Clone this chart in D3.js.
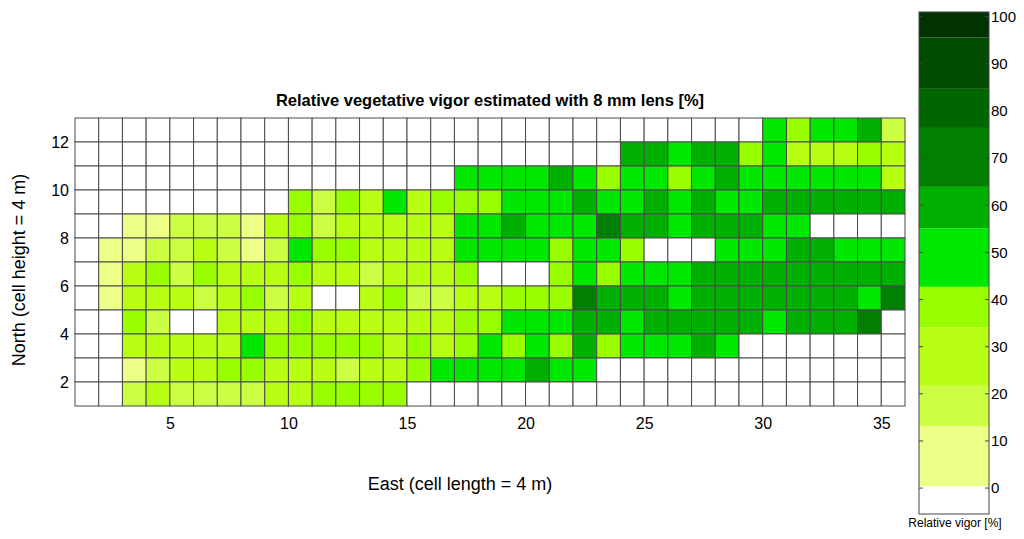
<!DOCTYPE html>
<html>
<head>
<meta charset="utf-8">
<script src="https://cdn.jsdelivr.net/npm/d3@7"></script>
<style>
  body { margin: 0; background: #fff; }
  svg { display: block; font-family: "Liberation Sans", Arial, sans-serif; }
</style>
</head>
<body>
<svg id="chart" width="1024" height="539"></svg>
<script>
const _ = null;

// relative vigor per cell, rows from north (y = 12) to south (y = 1), columns x = 1..35
const vigor = [
  [_,_,_,_,_,_,_,_,_,_,_,_,_,_,_,_,_,_,_,_,_,_,_,_,_,_,_,_,_,49,38,49,49,59,17],
  [_,_,_,_,_,_,_,_,_,_,_,_,_,_,_,_,_,_,_,_,_,_,_,59,59,49,59,59,38,49,28,28,28,38,28],
  [_,_,_,_,_,_,_,_,_,_,_,_,_,_,_,_,49,49,49,49,59,49,38,49,49,38,49,59,49,49,49,49,49,49,28],
  [_,_,_,_,_,_,_,_,_,38,17,38,28,49,28,38,38,38,49,49,49,59,49,49,59,49,59,49,49,59,59,59,59,59,59],
  [_,_,6,6,17,17,17,6,28,38,17,28,28,28,28,28,49,49,59,49,49,49,70,59,59,49,59,59,59,49,49,_,_,_,_],
  [_,6,6,17,17,28,17,6,17,49,38,38,28,28,28,28,49,49,49,49,38,49,49,38,_,_,_,49,49,49,59,59,49,49,49],
  [_,6,28,38,17,38,28,28,28,38,28,28,17,28,28,28,38,_,_,_,38,49,38,49,49,49,59,59,59,59,59,59,59,59,59],
  [_,6,28,28,28,17,28,38,17,28,_,_,28,38,17,17,28,28,38,38,38,70,59,59,59,49,59,59,59,59,59,59,59,49,70],
  [_,_,38,17,_,_,28,28,28,38,28,28,28,28,28,28,38,38,49,49,49,59,59,49,59,59,59,59,59,49,59,59,59,70,_],
  [_,_,28,28,28,28,28,49,38,38,38,38,38,28,38,28,38,49,38,49,38,59,38,49,49,49,59,49,_,_,_,_,_,_,_],
  [_,_,6,17,28,28,38,38,28,28,28,17,28,28,38,49,49,49,49,59,49,49,_,_,_,_,_,_,_,_,_,_,_,_,_],
  [_,_,17,28,17,17,17,17,28,28,38,38,38,38,_,_,_,_,_,_,_,_,_,_,_,_,_,_,_,_,_,_,_,_,_]
];
const northRow = 12;

const xTicks = [5, 10, 15, 20, 25, 30, 35];
const yTicks = [2, 4, 6, 8, 10, 12];
const barTicks = [0, 10, 20, 30, 40, 50, 60, 70, 80, 90, 100];

// colour bands of the colorbar, as read from it
const bandEdges = [-5.5, 0.4, 13.1, 21.7, 34.1, 42.7, 55.1, 63.9, 76.4, 84.7, 95.6, 101];
const bandColors = ['#ffffff', '#eeff88', '#ccff44', '#b9ff14', '#99ff00', '#00e800',
                    '#00b000', '#007f00', '#006600', '#004d00', '#003300'];

const title = 'Relative vegetative vigor estimated with 8 mm lens [%]';
const xTitle = 'East (cell length = 4 m)';
const yTitle = 'North (cell height = 4 m)';
const barTitle = 'Relative vigor [%]';

const svg = d3.select('#chart');

const x = d3.scaleLinear().domain([1, 36]).range([75, 905]);
const y = d3.scaleLinear().domain([1, 13]).range([406, 118]);
const color = d3.scaleThreshold().domain(bandEdges.slice(1, -1)).range(bandColors);

const cells = [];
vigor.forEach((row, i) => {
  row.forEach((v, j) => cells.push({ x: j + 1, y: northRow - i, v }));
});

svg.append('g')
  .selectAll('rect')
  .data(cells)
  .join('rect')
  .attr('x', d => x(d.x))
  .attr('y', d => y(d.y + 1))
  .attr('width', x(2) - x(1))
  .attr('height', y(1) - y(2))
  .attr('fill', d => d.v == null ? '#fff' : color(d.v))
  .attr('stroke', '#4a4a4a')
  .attr('stroke-width', 1);

svg.append('g')
  .attr('transform', `translate(0,${y(1)})`)
  .call(d3.axisBottom(x).tickValues(xTicks).tickSize(0).tickPadding(12))
  .call(g => g.select('.domain').remove())
  .selectAll('text')
  .attr('font-size', 16)
  .attr('font-family', '"Liberation Sans", Arial, sans-serif')
  .attr('fill', '#000');

svg.append('g')
  .attr('transform', `translate(${x(1)},0)`)
  .call(d3.axisLeft(y).tickValues(yTicks).tickSize(0).tickPadding(6))
  .call(g => g.select('.domain').remove())
  .selectAll('text')
  .attr('font-size', 16)
  .attr('font-family', '"Liberation Sans", Arial, sans-serif')
  .attr('fill', '#000');

svg.append('text')
  .attr('x', 490).attr('y', 106)
  .attr('text-anchor', 'middle')
  .attr('font-size', 16.5).attr('font-weight', 'bold')
  .text(title);

svg.append('text')
  .attr('x', 460).attr('y', 490)
  .attr('text-anchor', 'middle')
  .attr('font-size', 18)
  .text(xTitle);

svg.append('text')
  .attr('transform', `translate(25,${(y(1) + y(13)) / 2 + 8}) rotate(-90)`)
  .attr('text-anchor', 'middle')
  .attr('font-size', 18)
  .text(yTitle);

// colorbar
const cb = d3.scaleLinear().domain([bandEdges[0], bandEdges[bandEdges.length - 1]]).range([514, 12]);
const cbLeft = 919, cbRight = 989;
const bar = svg.append('g');

bar.selectAll('rect')
  .data(bandColors)
  .join('rect')
  .attr('x', cbLeft)
  .attr('width', cbRight - cbLeft)
  .attr('y', (c, i) => cb(bandEdges[i + 1]))
  .attr('height', (c, i) => cb(bandEdges[i]) - cb(bandEdges[i + 1]))
  .attr('fill', c => c);

bar.append('rect')
  .attr('x', cbLeft).attr('y', cb.range()[1])
  .attr('width', cbRight - cbLeft)
  .attr('height', cb.range()[0] - cb.range()[1])
  .attr('fill', 'none')
  .attr('stroke', '#444');

bar.selectAll('line.l')
  .data(barTicks)
  .join('line')
  .attr('class', 'l')
  .attr('x1', cbLeft).attr('x2', cbLeft + 4)
  .attr('y1', d => cb(d)).attr('y2', d => cb(d))
  .attr('stroke', '#444');

bar.selectAll('line.r')
  .data(barTicks)
  .join('line')
  .attr('class', 'r')
  .attr('x1', cbRight - 4).attr('x2', cbRight)
  .attr('y1', d => cb(d)).attr('y2', d => cb(d))
  .attr('stroke', '#444');

bar.selectAll('text')
  .data(barTicks)
  .join('text')
  .attr('x', cbRight + 2)
  .attr('y', d => cb(d))
  .attr('dy', '0.35em')
  .attr('font-size', 15)
  .text(d => d);

svg.append('text')
  .attr('x', 955).attr('y', 527)
  .attr('text-anchor', 'middle')
  .attr('font-size', 12)
  .text(barTitle);
</script>
</body>
</html>
